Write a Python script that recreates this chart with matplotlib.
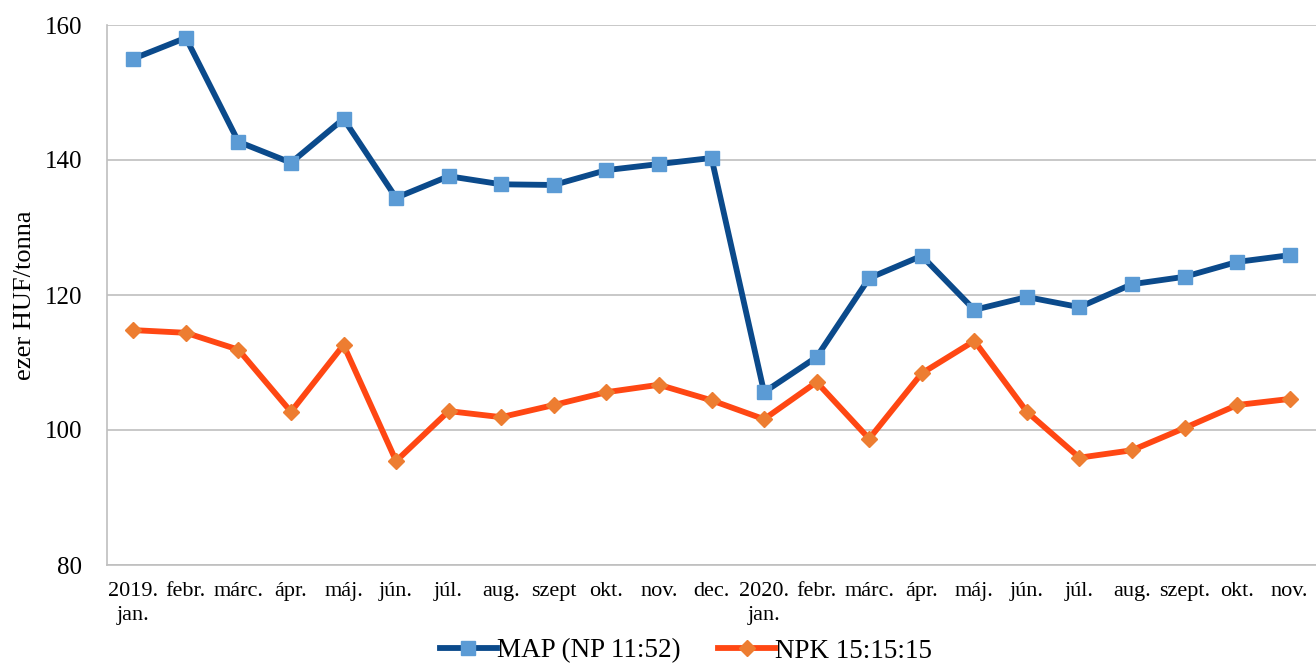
import matplotlib
matplotlib.use("Agg")
import matplotlib.pyplot as plt

categories = ["2019.\njan.", "febr.", "márc.", "ápr.", "máj.", "jún.", "júl.", "aug.", "szept",
              "okt.", "nov.", "dec.", "2020.\njan.", "febr.", "márc.", "ápr.", "máj.", "jún.",
              "júl.", "aug.", "szept.", "okt.", "nov."]
map_values = [155.0, 158.1, 142.7, 139.6, 146.1, 134.4, 137.6, 136.4, 136.3, 138.5, 139.4, 140.3,
              105.6, 110.8, 122.5, 125.8, 117.8, 119.7, 118.2, 121.6, 122.7, 124.9, 125.9]
npk_values = [114.8, 114.4, 111.9, 102.7, 112.6, 95.4, 102.8, 101.9, 103.7, 105.6, 106.7, 104.4,
              101.6, 107.1, 98.7, 108.4, 113.2, 102.7, 95.9, 97.0, 100.3, 103.7, 104.6]
y_ticks = [80, 100, 120, 140, 160]

plt.rcParams['font.family'] = ['Liberation Serif', 'DejaVu Serif']

fig = plt.figure(figsize=(13.16, 6.64), dpi=100)
ax = fig.add_axes([107/1316, 1-565/664, 1-107/1316, (565-25)/664])

x = list(range(len(categories)))
ax.plot(x, map_values, color='#0B4A8B', lw=4.2, marker='s', ms=10,
        markerfacecolor='#5B9BD5', markeredgecolor='#5B9BD5', label='MAP (NP 11:52)', zorder=3)
ax.plot(x, npk_values, color='#FF4713', lw=4.2, marker='D', ms=8,
        markerfacecolor='#ED7D31', markeredgecolor='#ED7D31', label='NPK 15:15:15', zorder=3)

ax.set_xlim(-0.5, len(categories) - 0.5)
ax.set_ylim(80, 160)
ax.set_yticks(y_ticks)
ax.set_yticklabels([str(v) for v in y_ticks], fontsize=18)
ax.set_xticks(x)
ax.set_xticklabels(categories, fontsize=16, linespacing=1.4)
ax.tick_params(axis='both', length=0)
ax.tick_params(axis='x', pad=12)
ax.tick_params(axis='y', pad=18)
ax.grid(axis='y', color='#BFBFBF', lw=1.2)
ax.set_axisbelow(True)
for s in ['top', 'right']:
    ax.spines[s].set_visible(False)
for s in ['left', 'bottom']:
    ax.spines[s].set_color('#BFBFBF')
    ax.spines[s].set_linewidth(1.2)

fig.text(25/1316, 1-295/664, 'ezer HUF/tonna', rotation=90, ha='center', va='center', fontsize=19)

leg = fig.legend(loc='center', bbox_to_anchor=(686/1316, 1-651/664), ncol=2, frameon=False,
                 fontsize=19.5, handlelength=2.1, handletextpad=0.0, columnspacing=1.4,
                 borderaxespad=0, borderpad=0)

fig.savefig('out.png', dpi=100)
